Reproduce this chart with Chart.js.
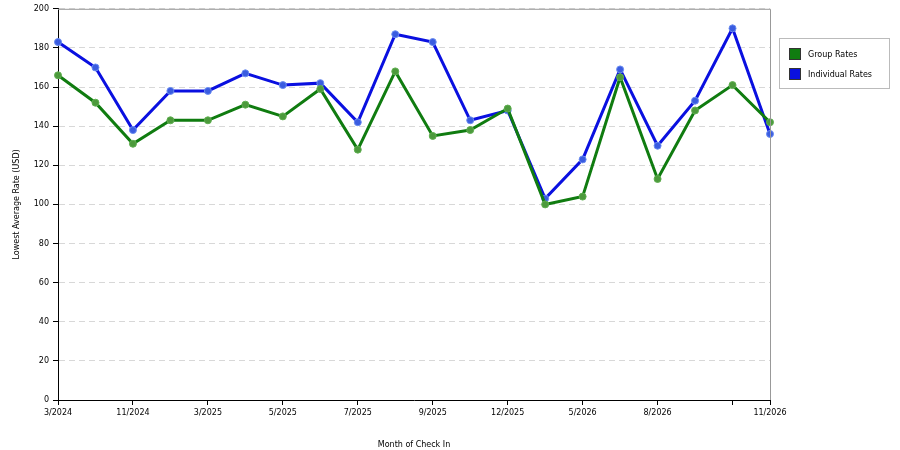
<!DOCTYPE html>
<html><head><meta charset="utf-8">
<script src="https://cdn.jsdelivr.net/npm/chart.js@4"></script>
<style>
body{margin:0;background:#fff;width:900px;height:450px;overflow:hidden;font-family:"DejaVu Sans",sans-serif}
#wrap{position:absolute;left:0;top:0;width:900px;height:450px}
#legend{position:absolute;left:779px;top:38px;width:109px;height:49px;border:1px solid #bbb;font-size:8px;color:#000}
.li{position:absolute;left:9px;display:flex;align-items:center}
.sw{width:12px;height:12px;margin-right:7px;border:1px solid #333;box-sizing:border-box}
</style></head><body>
<div id="wrap"><canvas id="c" width="900" height="450"></canvas></div>
<div id="legend">
<div class="li" style="top:9px"><span class="sw" style="background:#107c10"></span>Group Rates</div>
<div class="li" style="top:29px"><span class="sw" style="background:#0a10e0"></span>Individual Rates</div>
</div>
<script>
const categories=["3/2024","","11/2024","","3/2025","","5/2025","","7/2025","","9/2025","","12/2025","","5/2026","","8/2026","","","11/2026"];
const groupRates=[166,152,131,143,143,151,145,159,128,168,135,138,149,100,104,165,113,148,161,142];
const individualRates=[183,170,138,158,158,167,161,162,142,187,183,143,148,103,123,169,130,153,190,136];
const yTicks=[0,20,40,60,80,100,120,140,160,180,200];
const tickIdx=[0,2,4,6,8,10,12,14,16,18,19];
const frame={id:'frame',afterDraw(ch){const a=ch.chartArea,x=ch.ctx;x.save();x.strokeStyle='#999';x.lineWidth=1;x.beginPath();x.moveTo(a.left,a.top+0.5);x.lineTo(a.right+0.5,a.top+0.5);x.lineTo(a.right+0.5,a.bottom);x.stroke();x.restore();}};
new Chart(document.getElementById('c'),{type:'line',
data:{labels:categories,datasets:[
{label:'Group Rates',data:groupRates,borderColor:'#107c10',backgroundColor:'#107c10',pointBackgroundColor:'#4c9a3c',pointBorderColor:'#5fae50',borderWidth:3,pointRadius:3.5,pointBorderWidth:1,tension:0},
{label:'Individual Rates',data:individualRates,borderColor:'#0a10e0',backgroundColor:'#0a10e0',pointBackgroundColor:'#3a5ce0',pointBorderColor:'#6a8cf0',borderWidth:3,pointRadius:3.5,pointBorderWidth:1,tension:0}]},
options:{responsive:false,animation:false,layout:{padding:{top:0,right:130,left:8,bottom:0}},
plugins:{legend:{display:false},tooltip:{enabled:false}},
scales:{
x:{offset:false,afterFit(s){s.height=50;},
 title:{display:true,text:'Month of Check In',font:{family:'DejaVu Sans',size:8},color:'#000',padding:{top:0,bottom:0}},
 ticks:{autoSkip:false,maxRotation:0,font:{family:'DejaVu Sans',size:8},color:'#000',callback:(v,i)=>categories[i]},
 grid:{drawOnChartArea:false,tickLength:5,tickColor:(c)=>tickIdx.includes(c.index)?'#000':'rgba(0,0,0,0)'},
 border:{color:'#000'}},
y:{min:0,max:200,afterFit(s){s.width=50;},
 afterBuildTicks(s){s.ticks=yTicks.map(v=>({value:v}));},
 title:{display:true,text:'Lowest Average Rate (USD)',font:{family:'DejaVu Sans',size:8},color:'#000'},
 ticks:{font:{family:'DejaVu Sans',size:8},color:'#000',padding:4},
 grid:{color:(c)=>c.tick&&c.tick.value===0?'rgba(0,0,0,0)':'#d8d8d8',tickLength:5,tickColor:'#000'},
 border:{color:'#000',dash:[6,4]}}}},
plugins:[frame]});
</script></body></html>
